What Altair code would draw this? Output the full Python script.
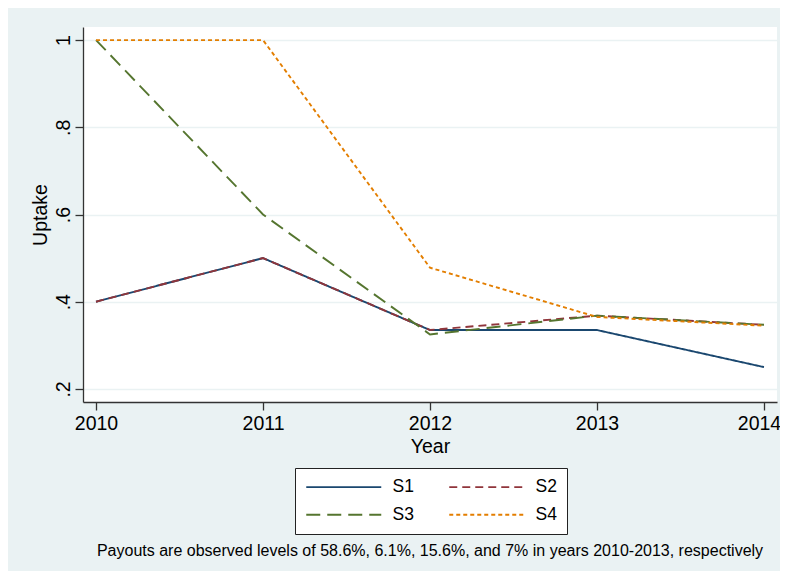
import altair as alt
import pandas as pd

years = [2010, 2011, 2012, 2013, 2014]
series = ["S1", "S2", "S3", "S4"]
s1 = [0.400, 0.500, 0.335, 0.335, 0.250]
s2 = [0.400, 0.500, 0.335, 0.368, 0.347]
s3 = [1.000, 0.600, 0.325, 0.368, 0.347]
s4 = [1.000, 1.000, 0.478, 0.365, 0.345]
y_ticks = [0.2, 0.4, 0.6, 0.8, 1.0]
colors = ["#1a476f", "#90353b", "#55752f", "#e37e00"]
dashes = [[1, 0], [8, 5], [14, 7], [4, 3]]
note = "Payouts are observed levels of 58.6%, 6.1%, 15.6%, and 7% in years 2010-2013, respectively"

rows = []
for name, vals in zip(series, [s1, s2, s3, s4]):
    for yr, v in zip(years, vals):
        rows.append({"year": yr, "value": v, "series": name})
df = pd.DataFrame(rows)

FONT = "Liberation Sans"
BG = "#EAF2F3"

legend = alt.Legend(
    orient="none", legendX=212, legendY=441, columns=2, direction="horizontal",
    fillColor="white", strokeColor="#222222", padding=10,
    symbolType="M-1,0H9", symbolSize=225, symbolStrokeWidth=1.8,
    labelFont=FONT, labelFontSize=17.5, labelColor="black", labelOffset=70,
    columnPadding=31, rowPadding=9,
)

chart = alt.Chart(df).mark_line(strokeWidth=1.9).encode(
    x=alt.X("year:Q",
            scale=alt.Scale(domain=[2009.922, 2014.078], nice=False, zero=False),
            axis=alt.Axis(values=years, format="d", title="Year", grid=False,
                          tickSize=8, labelPadding=4, titlePadding=5,
                          labelOffset={"condition": {"test": "datum.value == 2014", "value": -5},
                                       "value": 0})),
    y=alt.Y("value:Q",
            scale=alt.Scale(domain=[0.170, 1.030], nice=False, zero=False),
            axis=alt.Axis(values=y_ticks, title="Uptake",
                          labelExpr="datum.value == 1 ? '1' : replace(format(datum.value, '.1f'), '0.', '.')",
                          labelAngle=270, labelAlign="center", labelBaseline="bottom",
                          tickSize=8, labelPadding=2, titlePadding=3,
                          grid=True, gridColor=BG, gridWidth=1.5)),
    color=alt.Color("series:N", title=None,
                    scale=alt.Scale(domain=series, range=colors), legend=legend),
    strokeDash=alt.StrokeDash("series:N", title=None,
                              scale=alt.Scale(domain=series, range=dashes), legend=legend),
).properties(
    width=694, height=375,
    autosize=alt.AutoSizeParams(type="none"),
    padding={"left": 75, "top": 19, "right": 3, "bottom": 169},
    background=BG,
    title=alt.TitleParams(text=note, orient="bottom", anchor="middle", font=FONT,
                          fontSize=16, fontWeight="normal", color="black", offset=8),
).configure_view(
    fill="white", strokeWidth=0
).configure_axis(
    domainColor="#333333", domainWidth=1.3, tickColor="#333333", tickWidth=1.3,
    labelFont=FONT, labelFontSize=19.5, labelColor="black",
    titleFont=FONT, titleFontSize=19.5, titleColor="black", titleFontWeight="normal",
)

chart.save("out.html", embed_options={"renderer": "svg", "actions": False})
